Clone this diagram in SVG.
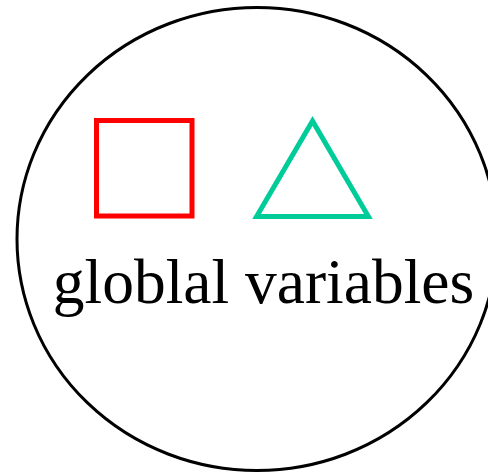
<svg xmlns="http://www.w3.org/2000/svg" width="488" height="473" viewBox="0 0 488 473">
<style>
.outline{fill:none;stroke:#000;stroke-width:3}
.label{font-family:"Liberation Serif","Times New Roman",serif;font-size:63.5px;fill:#000}
</style>
<rect width="488" height="473" fill="#fff"/>
<g id="scope">
<ellipse class="outline" cx="257" cy="239" rx="240" ry="231.5"/>
<text class="label" x="263.5" y="303" text-anchor="middle">globlal variables</text>
</g>
<g id="square">
<rect x="96.5" y="120.5" width="95.5" height="95.5" fill="none" stroke="#ff0000" stroke-width="5"/>
</g>
<g id="triangle">
<polygon points="312.5,121 256.6,216.5 368.4,216.5" fill="none" stroke="#00cc99" stroke-width="5"/>
</g>
<g id="connectors"/>
</svg>
